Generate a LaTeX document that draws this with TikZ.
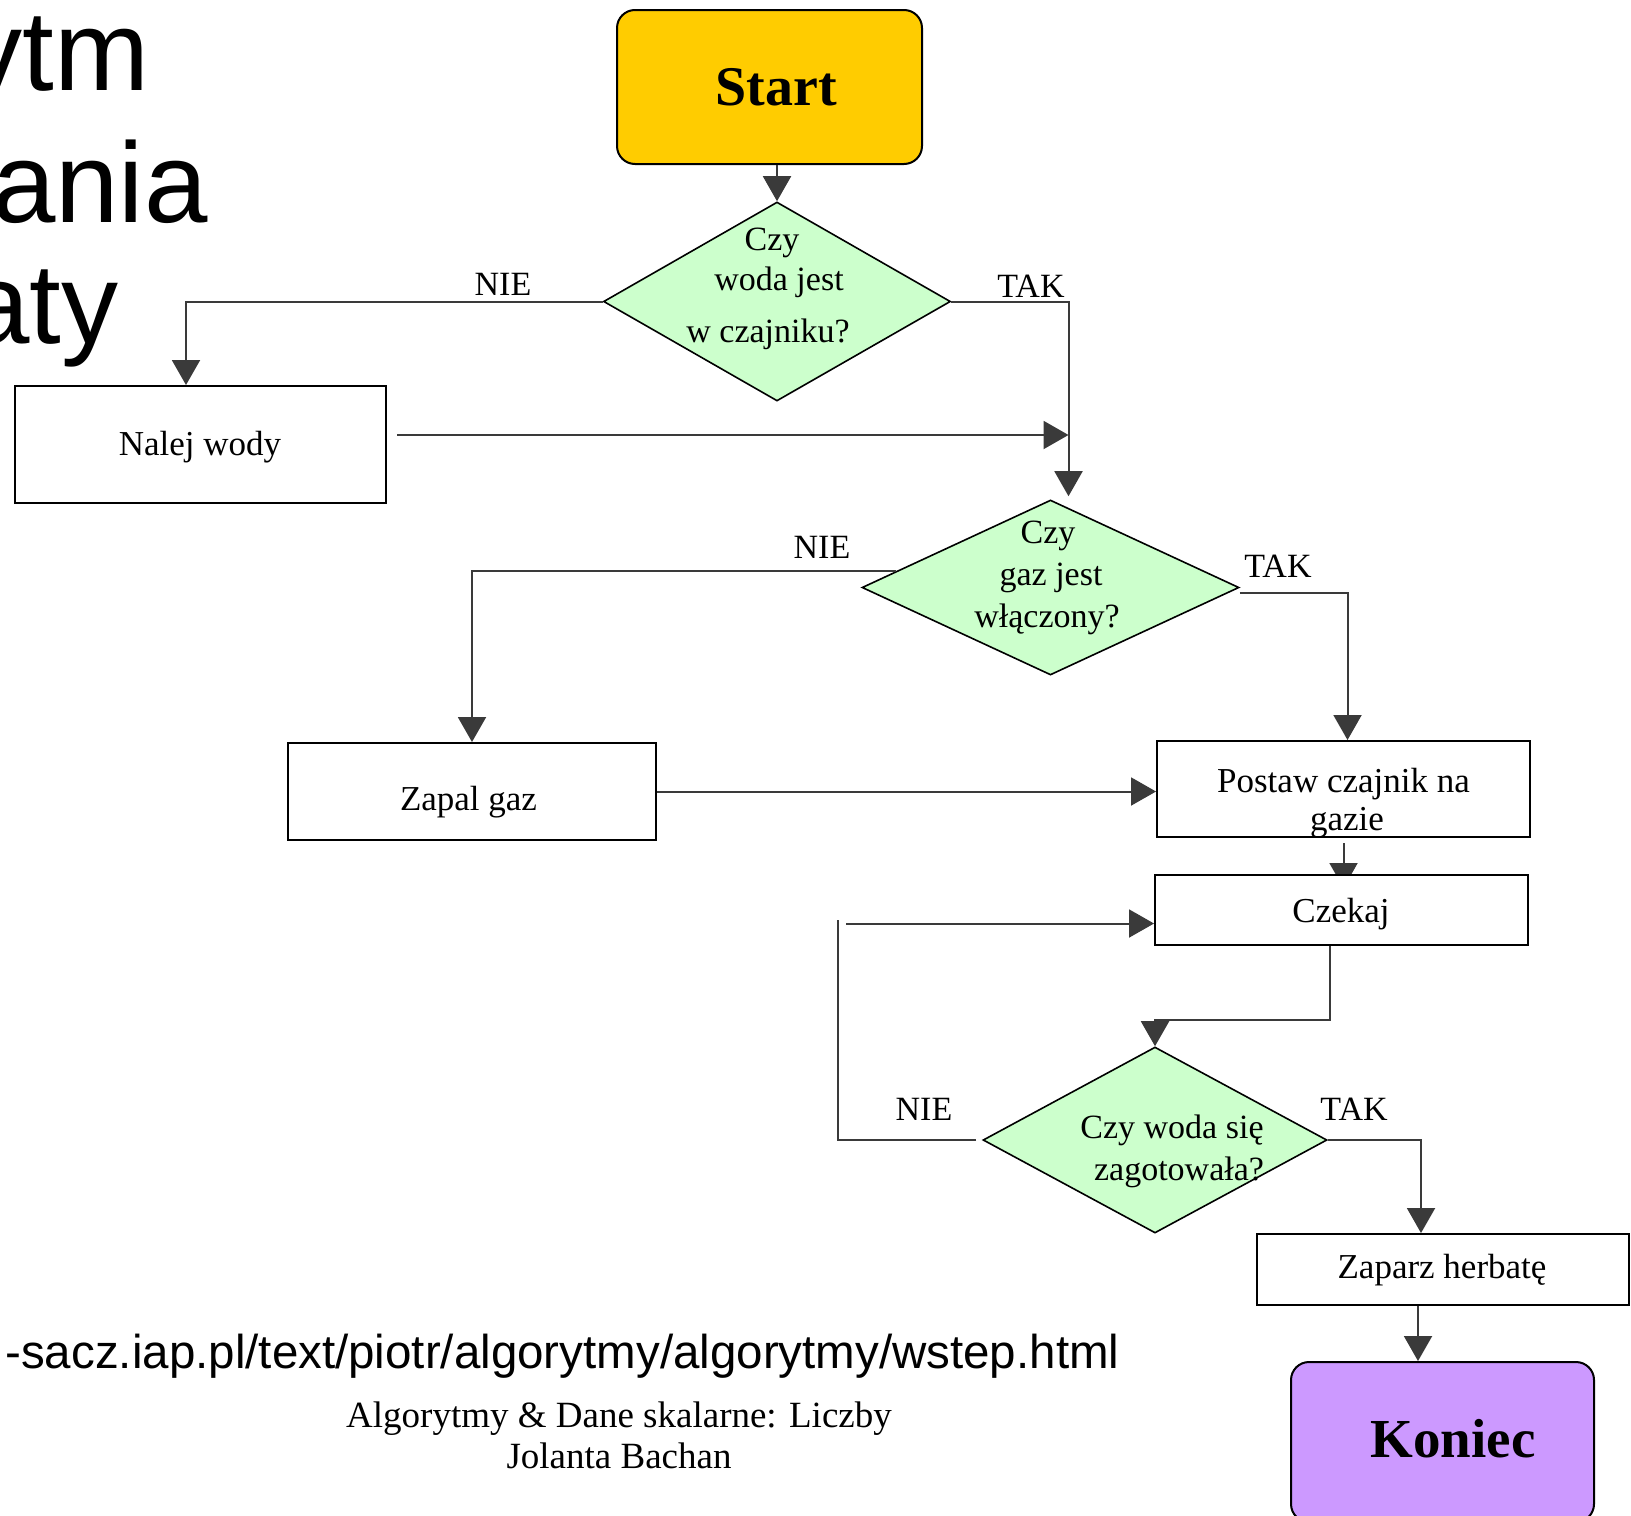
\documentclass[tikz,border=0pt]{standalone}
\usepackage{fontspec}
\setmainfont{Liberation Serif}
\newfontfamily\arialf{Liberation Sans}
\usetikzlibrary{shapes.geometric,arrows.meta,backgrounds,calc}
\definecolor{startc}{HTML}{FFCC00}
\definecolor{endc}{HTML}{CC99FF}
\definecolor{decc}{HTML}{CCFFCC}
\definecolor{linec}{HTML}{3A3A3A}
\begin{document}
\begin{tikzpicture}[x=0.5pt,y=-0.5pt,
  box/.style={draw=black, line width=1pt, fill=white, rectangle, inner sep=0pt},
  term/.style={draw=black, line width=1pt, rounded corners=9pt, rectangle, inner sep=0pt},
  dec/.style={diamond, draw=black, line width=0.8pt, fill=decc, inner sep=0pt},
  btxt/.style={anchor=base, inner sep=0pt, font=\fontsize{17.5}{20}\selectfont},
  dtxt/.style={anchor=base, inner sep=0pt, font=\fontsize{17}{20}\selectfont},
  lbl/.style={anchor=base, inner sep=0pt, font=\fontsize{17}{20}\selectfont},
  ttxt/.style={anchor=base, inner sep=0pt, font=\fontsize{28}{30}\selectfont\bfseries},
  conn/.style={draw=linec, line width=1pt},
  arr/.style={conn, -{Triangle[length=12.5pt,width=14pt]}},
]
\useasboundingbox (0,0) rectangle (1631,1515);

% title fragments
\node[anchor=base east, inner sep=0pt, font=\arialf\fontsize{57}{60}\selectfont] (ti1) at (150,90) {ytm};
\node[anchor=base east, inner sep=0pt, font=\arialf\fontsize{57}{60}\selectfont] (ti2) at (208,222) {ania};
\node[anchor=base east, inner sep=0pt, font=\arialf\fontsize{57}{60}\selectfont] (ti3) at (119,343) {aty};

% footer
\node[anchor=base west, inner sep=0pt, font=\arialf\fontsize{23.75}{26}\selectfont] (url) at (5,1368) {-sacz.iap.pl/text/piotr/algorytmy/algorytmy/wstep.html};
\node[anchor=base, inner sep=0pt, font=\fontsize{18.5}{20}\selectfont] (ft1) at (619,1427) {Algorytmy \& Dane skalarne: Liczby};
\node[anchor=base, inner sep=0pt, font=\fontsize{18.5}{20}\selectfont] (ft2) at (619,1468) {Jolanta Bachan};

% shapes
\node[term, fill=startc, minimum width=152.5pt, minimum height=77pt] (start) at (769.5,87) {};
\node[dec, minimum width=173.5pt, minimum height=99.5pt] (d1) at (777,301.5) {};
\node[box, minimum width=185.5pt, minimum height=58.5pt] (nalej) at (200.5,444.5) {};
\node[dec, minimum width=188.5pt, minimum height=87.5pt] (d2) at (1050.5,587.5) {};
\node[box, minimum width=184pt, minimum height=48.5pt] (zap) at (472,791.5) {};
\node[box, minimum width=186.5pt, minimum height=48pt] (post) at (1343.5,789) {};
\node[box, minimum width=186.5pt, minimum height=35pt] (czek) at (1341.5,910) {};
\node[dec, minimum width=172pt, minimum height=93pt] (d3) at (1155,1140) {};
\node[box, minimum width=186pt, minimum height=35.5pt] (herb) at (1443,1269.5) {};
\node[term, fill=endc, minimum width=151.5pt, minimum height=80pt] (kon) at (1442.5,1442) {};

% texts
\node[ttxt] (startt) at (776,105) {Start};
\node[ttxt, font=\fontsize{27.5}{30}\selectfont\bfseries] (kont) at (1453,1457) {Koniec};
\node[dtxt] (d1a) at (772,250) {Czy};
\node[dtxt] (d1b) at (779,290) {woda jest};
\node[dtxt] (d1c) at (768,342) {w czajniku?};
\node[dtxt] (d2a) at (1048,543) {Czy};
\node[dtxt] (d2b) at (1051,585) {gaz jest};
\node[dtxt] (d2c) at (1047,627) {włączony?};
\node[dtxt] (d3a) at (1172,1138) {Czy woda się};
\node[dtxt] (d3b) at (1179,1180) {zagotowała?};
\node[btxt] (nalejt) at (200,455) {Nalej wody};
\node[btxt] (zapt) at (468.5,810) {Zapal gaz};
\node[btxt] (postt1) at (1343.5,792) {Postaw czajnik na};
\node[btxt] (postt2) at (1347,830) {gazie};
\node[btxt] (czekt) at (1341,922) {Czekaj};
\node[btxt] (herbt) at (1442,1278) {Zaparz herbatę};

% branch labels
\node[lbl] (n1) at (503,295) {NIE};
\node[lbl] (t1) at (1031,297) {TAK};
\node[lbl] (n2) at (822,558) {NIE};
\node[lbl] (t2) at (1278,577) {TAK};
\node[lbl] (n3) at (924,1120) {NIE};
\node[lbl] (t3) at (1354,1120) {TAK};

% connectors
\coordinate (j1) at (1068.5,435);
\coordinate (lp) at (838,920);
\coordinate (la) at (846,923.5);

\begin{scope}[on background layer]
\fill[white] (0,0) rectangle (1631,1515);
\draw[arr] ($(post.south)+(0,5)$) -- ($(post.south |- czek.north)+(0,14)$);
\end{scope}

\draw[arr] (start.south -| d1.north) -- (d1.north);
\draw[arr] (d1.west) -| ([xshift=-7.25pt]nalej.north);
\draw[arr] (d1.east) -| ([xshift=9pt,yshift=1.5pt]d2.north);
\draw[arr] ($(nalej.east |- j1)+(10,0)$) -- (j1);
\draw[arr] (d2.174) -| (zap.north);
\draw[arr] ([yshift=-2.5pt]d2.east) -| ([xshift=2pt]post.north);
\draw[arr] (zap.east) -- (zap.east -| post.west);
\draw[conn] ([xshift=-3pt]d3.west) -| (lp);
\draw[arr] (la) -- (la -| czek.west);
\draw[arr] ([xshift=-6pt]czek.south) |- ([yshift=13pt]d3.north) -- (d3.north);
\draw[arr] (d3.east) -| ([xshift=-11pt]herb.north);
\draw[arr] ($(herb.south)+(-25,0)$) -- ($(herb.south |- kon.north)+(-25,0)$);
\end{tikzpicture}
\end{document}
